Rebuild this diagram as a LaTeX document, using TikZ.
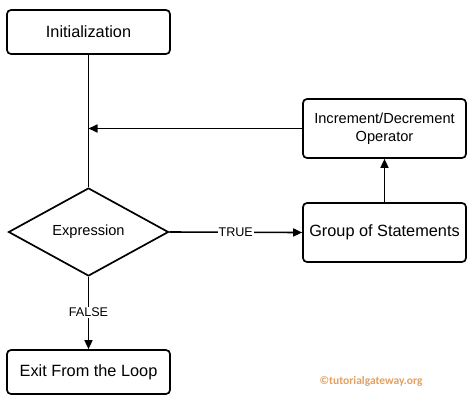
\documentclass[tikz,border=0pt]{standalone}
\usepackage{fontspec}
\setmainfont{Liberation Sans}
\newfontfamily\wmfont{Carlito}
\usetikzlibrary{shapes.geometric,arrows.meta}
\definecolor{wm}{RGB}{228,160,95}
\begin{document}
\begin{tikzpicture}[x=1pt,y=-1pt,
  box/.style={draw,line width=1.7pt,rounded corners=4pt,minimum width=163pt,align=center,inner sep=0pt},
  conn/.style={line width=1.6pt},
  arr/.style={conn,-{Triangle[length=9pt,width=8pt]}},
  lbl/.style={fill=white,inner sep=1pt,font=\fontsize{12.6}{14}\selectfont}]
\useasboundingbox[fill=white] (0,0) rectangle (474,405);
\node[box,minimum height=44pt,font=\fontsize{16.3}{20}\selectfont] (init) at (88.5,32) {Initialization};
\node[box,minimum height=59pt,font=\fontsize{14.6}{18}\selectfont] (inc) at (384.5,128.5) {Increment/Decrement\\Operator};
\node[draw,diamond,line width=1.7pt,aspect=1.82,minimum width=160pt,minimum height=88pt,inner sep=0pt,font=\fontsize{14.6}{17}\selectfont] (expr) at (88.5,232) {Expression};
\node[box,minimum height=59pt,font=\fontsize{16.3}{19}\selectfont] (grp) at (384.5,232.5) {Group of Statements};
\node[box,minimum height=44pt,font=\fontsize{16.3}{19}\selectfont] (exit) at (88.5,372) {Exit From the Loop};
\coordinate (j) at (88.5,128.5);
\draw[conn] (init.south) -- (expr.north);
\draw[arr] (inc.west) -- (j);
\draw[arr] (expr.east) -- node[lbl,pos=0.5] (t) {TRUE} (grp.west);
\draw[arr] (grp.north) -- (inc.south);
\draw[arr] (expr.south) -- node[lbl,pos=0.49] (f) {FALSE} (exit.north);
\node[font=\wmfont\bfseries\fontsize{11.5}{13}\selectfont,text=wm] (wm) at (371,381) {©tutorialgateway.org};
\end{tikzpicture}
\end{document}
